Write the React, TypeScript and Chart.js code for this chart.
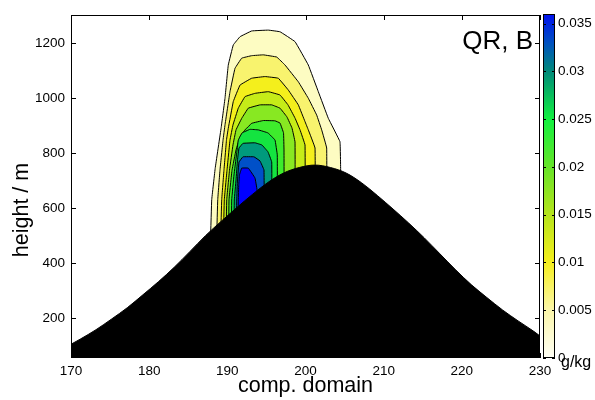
import React, { useEffect, useRef } from 'react';
import { Chart, registerables } from 'chart.js';
Chart.register(...registerables);

const FONT = "'Liberation Sans', Arial, Helvetica, sans-serif";

// axes
const xTicks = [170, 180, 190, 200, 210, 220, 230];
const yTicks = [200, 400, 600, 800, 1000, 1200];
const cbTicks = [0, 0.005, 0.01, 0.015, 0.02, 0.025, 0.03, 0.035];
const panelLabel = 'QR, B';
const xTitle = 'comp. domain';
const yTitle = 'height / m';
const unitLabel = 'g/kg';

// terrain (mountain) profile
const terrainX = [170, 171.2, 173.2, 175.2, 177.2, 179.2, 181.2, 183.2, 185.2, 187.2, 189.2, 191.2, 193.2, 195.2, 197.2, 199.2, 201.2, 203.2, 205.2, 207.2, 209.2, 211.2, 213.2, 215.2, 217.2, 219.2, 221.2, 223.2, 225.2, 227.2, 229.2, 230];
const terrainY = [105, 124, 158, 197, 238, 285, 333, 385, 442, 500, 552, 602, 650, 694, 728, 748, 757, 748, 728, 692, 646, 597, 546, 492, 434, 376, 322, 275, 230, 190, 152, 135];

// contour lines of QR (outermost c1 -> innermost c10), open at the bottom (closed below the terrain)
const c1x = [187.6, 188.0, 188.45, 189.2, 189.7, 190.12, 190.76, 191.62, 193.12, 195.24, 196.74, 198.66, 200.36, 201.64, 202.92, 204.41, 204.5, 204.55];
const c1y = [250, 630, 746, 891, 1000, 1121, 1194, 1224, 1245, 1248, 1242, 1206, 1121, 1024, 927, 842, 733, 250];
const c2x = [188.4, 188.77, 189.06, 189.45, 189.7, 190.34, 190.98, 191.84, 193.12, 194.6, 196.32, 197.38, 199.08, 200.36, 201.43, 202.07, 202.71, 202.75];
const c2y = [250, 630, 739, 848, 903, 1024, 1109, 1146, 1155, 1158, 1150, 1121, 1060, 1000, 939, 885, 819, 250];
const c3x = [188.9, 189.28, 189.57, 189.89, 190.12, 190.76, 191.62, 193.12, 194.82, 196.52, 197.8, 199.08, 199.94, 200.36, 201.22, 201.3];
const c3y = [250, 630, 739, 848, 891, 988, 1048, 1073, 1079, 1073, 1030, 976, 915, 885, 819, 250];
const c4x = [189.3, 189.61, 189.96, 190.34, 190.72, 191.4, 192.26, 193.54, 195.24, 196.74, 197.76, 198.66, 199.3, 199.94, 200.0];
const c4y = [250, 630, 739, 848, 903, 964, 1006, 1018, 1024, 1012, 976, 928, 885, 830, 250];
const c5x = [189.7, 189.92, 190.28, 190.72, 191.11, 191.84, 192.68, 194.18, 195.68, 196.74, 197.63, 198.27, 198.66, 198.7];
const c5y = [250, 630, 739, 830, 885, 927, 964, 976, 976, 964, 932, 892, 841, 250];
const c6x = [190.1, 190.21, 190.6, 191.11, 191.62, 192.26, 193.12, 194.6, 196.1, 196.74, 197.19, 197.25, 197.3];
const c6y = [250, 630, 739, 812, 859, 885, 909, 919, 918, 910, 874, 812, 250];
const c7x = [190.4, 190.56, 190.85, 191.17, 191.4, 191.88, 192.9, 193.96, 195.2, 196.1, 196.39, 196.42];
const c7y = [250, 630, 721, 794, 848, 874, 887, 885, 874, 848, 794, 250];
const c8x = [190.7, 190.89, 191.11, 191.3, 191.49, 192.0, 193.54, 194.43, 195.2, 195.68, 195.72];
const c8y = [250, 630, 703, 776, 819, 836, 838, 830, 805, 768, 250];
const c9x = [191.0, 191.2, 191.3, 191.49, 192.0, 193.41, 194.18, 194.69, 194.8];
const c9y = [250, 630, 703, 768, 787, 787, 772, 739, 250];
const c10x = [191.3, 191.4, 191.46, 191.55, 191.84, 192.68, 193.54, 193.8, 193.85];
const c10y = [250, 630, 685, 721, 746, 746, 710, 667, 250];

// fill colours of the bands inside each contour (c1..c10)
const bandColors = ['#fdfcc2', '#f8f36e', '#f4ef1c', '#c6ec18', '#88e822', '#3eec2c', '#14e440', '#009a7c', '#0050c8', '#0000ff'];

// colour bar
const cbMin = 0;
const cbMax = 0.036;
const cbStopValues = [0, 0.005, 0.01, 0.015, 0.02, 0.025, 0.03, 0.033, 0.036];
const cbStopColors = ['#fffff6', '#fbf6aa', '#f5ef1e', '#b6e41c', '#66e428', '#12f040', '#008a7a', '#0050c0', '#0010f0'];

const pts = (xs: number[], ys: number[]) => xs.map((x, i) => ({ x, y: ys[i] }));

export default function App() {
  const mainRef = useRef<HTMLCanvasElement>(null);
  const cbRef = useRef<HTMLCanvasElement>(null);

  useEffect(() => {
    Chart.defaults.font.family = FONT;
    Chart.defaults.color = '#000';

    const contours = [
      [c10x, c10y], [c9x, c9y], [c8x, c8y], [c7x, c7y], [c6x, c6y],
      [c5x, c5y], [c4x, c4y], [c3x, c3y], [c2x, c2y], [c1x, c1y],
    ];
    const n = contours.length;

    const datasets: any[] = [
      {
        label: 'terrain',
        data: pts(terrainX, terrainY),
        borderColor: '#000',
        backgroundColor: '#000',
        borderWidth: 1,
        fill: 'start',
        pointRadius: 0,
        cubicInterpolationMode: 'monotone',
      },
      ...contours.map(([xs, ys], i) => ({
        label: 'c' + (n - i),
        data: pts(xs, ys),
        borderColor: '#000',
        backgroundColor: bandColors[n - 1 - i],
        borderWidth: 1,
        fill: 'shape',
        pointRadius: 0,
        tension: 0.05,
      })),
    ];

    const framePlugin = {
      id: 'frame',
      afterDatasetsDraw(chart: any) {
        const { ctx, chartArea: a, scales } = chart;
        ctx.save();
        ctx.strokeStyle = '#000';
        ctx.lineWidth = 1;
        ctx.beginPath();
        for (const v of xTicks) {
          const p = Math.round(scales.x.getPixelForValue(v)) + 0.5;
          ctx.moveTo(p, a.bottom);
          ctx.lineTo(p, a.bottom - 5);
          ctx.moveTo(p, a.top);
          ctx.lineTo(p, a.top + 5);
        }
        for (const v of yTicks) {
          const p = Math.round(scales.y.getPixelForValue(v)) + 0.5;
          ctx.moveTo(a.left, p);
          ctx.lineTo(a.left + 5, p);
          ctx.moveTo(a.right, p);
          ctx.lineTo(a.right - 5, p);
        }
        ctx.stroke();
        ctx.strokeRect(a.left + 0.5, a.top + 0.5, a.right - a.left - 1, a.bottom - a.top - 1);
        ctx.fillStyle = '#000';
        ctx.font = `26px ${FONT}`;
        ctx.textAlign = 'right';
        ctx.textBaseline = 'alphabetic';
        ctx.fillText(panelLabel, a.right - 7, a.top + 34);
        // y-axis title
        ctx.save();
        ctx.translate(22, 210);
        ctx.rotate(-Math.PI / 2);
        ctx.font = `21.5px ${FONT}`;
        ctx.textAlign = 'center';
        ctx.textBaseline = 'middle';
        ctx.fillText(yTitle, 0, 0);
        ctx.restore();
        ctx.restore();
      },
    };

    const main = new Chart(mainRef.current!, {
      type: 'line',
      data: { datasets },
      options: {
        animation: false,
        responsive: false,
        maintainAspectRatio: false,
        layout: { padding: { left: 0, top: 15, right: 55, bottom: 0 } },
        plugins: { legend: { display: false }, tooltip: { enabled: false } },
        scales: {
          x: {
            type: 'linear',
            min: 170,
            max: 230,
            afterBuildTicks: (s: any) => { s.ticks = xTicks.map((v) => ({ value: v })); },
            afterFit: (s: any) => { s.height = 42; },
            grid: { display: false, drawTicks: false },
            border: { display: false },
            ticks: { font: { size: 13.5 }, padding: 5, color: '#000', maxRotation: 0, callback: (v: any) => String(v) },
            title: { display: true, text: xTitle, font: { size: 21.5 }, color: '#000', padding: { top: 0, bottom: 1 } },
          },
          y: {
            type: 'linear',
            min: 55,
            max: 1303,
            afterBuildTicks: (s: any) => { s.ticks = yTicks.map((v) => ({ value: v })); },
            afterFit: (s: any) => { s.width = 71; },
            grid: { display: false, drawTicks: false },
            border: { display: false },
            ticks: { font: { size: 13.5 }, padding: 6, color: '#000', callback: (v: any) => String(v) },
            title: { display: false },
          },
        },
      },
      plugins: [framePlugin],
    } as any);

    const cb = new Chart(cbRef.current!, {
      type: 'bar',
      data: {
        labels: ['QR'],
        datasets: [
          {
            data: [[cbMin, cbMax]],
            borderWidth: 0,
            borderSkipped: false,
            barPercentage: 1,
            categoryPercentage: 1,
            backgroundColor: (c: any) => {
              const chart = c.chart;
              const area = chart.chartArea;
              const ys = chart.scales && chart.scales.y;
              if (!area || !ys) return '#ffffff';
              const y0 = ys.getPixelForValue(cbMin);
              const y1 = ys.getPixelForValue(cbMax);
              if (!isFinite(y0) || !isFinite(y1) || y0 === y1) return '#ffffff';
              const g = chart.ctx.createLinearGradient(0, y0, 0, y1);
              cbStopValues.forEach((v, i) => g.addColorStop((v - cbMin) / (cbMax - cbMin), cbStopColors[i]));
              return g;
            },
          },
        ],
      },
      options: {
        animation: false,
        responsive: false,
        maintainAspectRatio: false,
        layout: { padding: { left: 8, top: 14, right: 0, bottom: 42 } },
        plugins: { legend: { display: false }, tooltip: { enabled: false } },
        scales: {
          x: { display: false },
          y: {
            position: 'right',
            min: cbMin,
            max: cbMax,
            afterBuildTicks: (s: any) => { s.ticks = cbTicks.map((v) => ({ value: v })); },
            afterFit: (s: any) => { s.width = 40; },
            grid: { display: false, drawTicks: false },
            border: { display: false },
            ticks: { font: { size: 13.5 }, padding: 3, color: '#000', callback: (v: any) => String(v) },
          },
        },
      },
      plugins: [{
        id: 'cbframe',
        afterDatasetsDraw(chart: any) {
          const { ctx, chartArea: a, scales } = chart;
          ctx.save();
          ctx.strokeStyle = '#000';
          ctx.lineWidth = 1;
          ctx.beginPath();
          for (const v of cbTicks) {
            const p = Math.round(scales.y.getPixelForValue(v)) + 0.5;
            ctx.moveTo(a.left, p);
            ctx.lineTo(a.left + 3, p);
            ctx.moveTo(a.right, p);
            ctx.lineTo(a.right - 3, p);
          }
          ctx.stroke();
          ctx.strokeRect(a.left + 0.5, a.top + 0.5, a.right - a.left - 1, a.bottom - a.top - 1);
          ctx.fillStyle = '#000';
          ctx.font = `16px ${FONT}`;
          ctx.textAlign = 'left';
          ctx.textBaseline = 'alphabetic';
          ctx.fillText(unitLabel, a.right + 6, a.bottom + 9);
          ctx.restore();
        },
      }],
    } as any);

    return () => {
      main.destroy();
      cb.destroy();
    };
  }, []);

  return (
    <div style={{ position: 'absolute', left: 0, top: 0, width: 595, height: 400, background: '#fff' }}>
      <canvas ref={mainRef} width={595} height={400} style={{ position: 'absolute', left: 0, top: 0 }} />
      <canvas ref={cbRef} width={60} height={400} style={{ position: 'absolute', left: 535, top: 0 }} />
    </div>
  );
}
